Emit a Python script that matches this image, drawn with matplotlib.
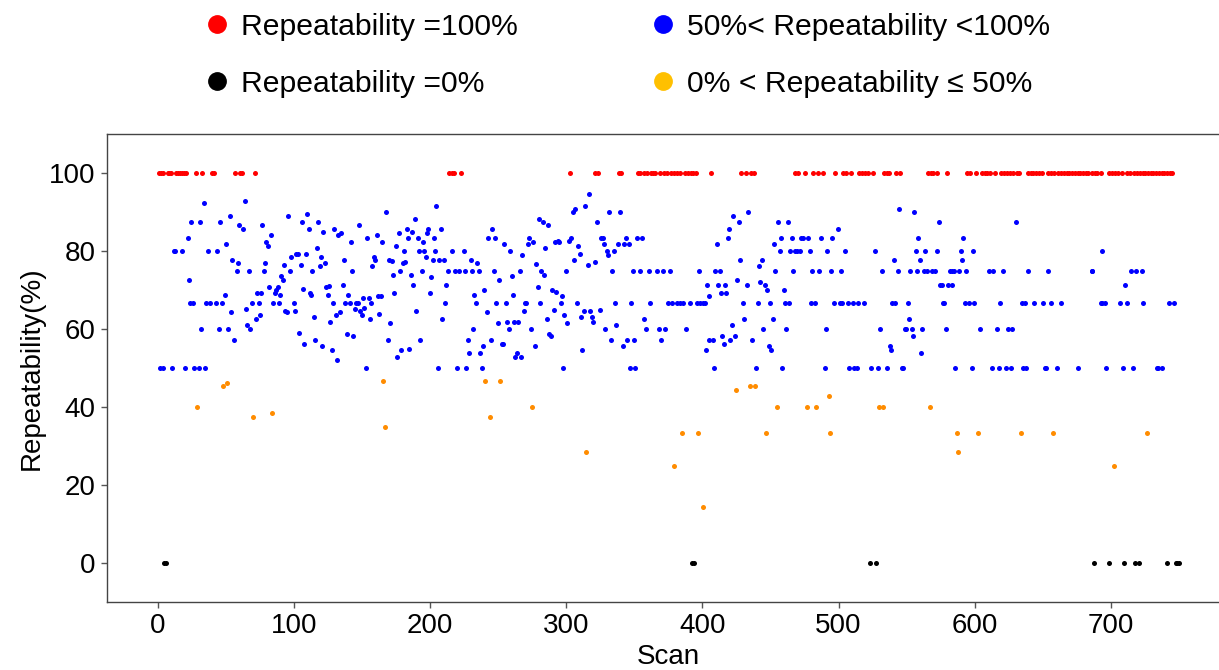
import matplotlib
matplotlib.use("Agg")
import matplotlib.pyplot as plt
from matplotlib.lines import Line2D

plt.rcParams['font.family'] = ['Liberation Sans', 'DejaVu Sans']

# ---------------- data ----------------
red_x = [0.8, 2.2, 3.7, 7.2, 8.6, 10.0, 13.7, 15.2, 16.6, 18.1, 19.6, 21.1, 27.9, 32.8, 39.9, 41.6,
         57.0, 60.7, 61.9, 71.1,
         213.6, 216.0, 217.5, 222.9,
         302.8, 321.1, 323.3, 338.5, 340.4, 352.7, 354.2, 357.1, 359.0, 362.4, 363.9, 365.4, 368.8,
         371.7, 373.7, 376.9, 378.8, 381.0, 383.2, 386.9,
         389.3, 391.3, 393.2, 395.0, 406.6, 428.6, 431.8, 435.8, 437.6, 468.2, 470.0, 475.1, 481.6,
         484.6, 488.5, 497.7, 503.6, 505.6, 509.3, 515.3, 517.3, 519.3,
         521.3, 525.2, 533.5, 535.4, 537.4, 542.3, 545.5, 565.6, 567.6, 569.6, 572.1, 579.7, 594.6,
         596.5, 601.0, 605.4, 607.6, 609.3, 611.3, 614.9, 619.5, 621.5, 623.5, 625.9, 628.4, 630.8,
         632.7, 639.3, 641.3, 643.0, 645.0, 646.9, 649.2,
         653.6, 656.1, 658.6, 661.1, 663.6, 665.6, 667.6, 669.6, 671.5, 673.5, 675.5, 677.5, 679.5,
         681.5, 683.5, 685.8, 688.2, 690.0, 693.0, 698.7, 700.9, 702.9, 704.9, 708.5, 711.8, 713.8,
         716.8, 719.2, 721.3, 723.3, 725.3, 727.3, 729.2, 731.2, 733.2, 735.2, 737.2, 739.2, 741.2,
         743.2, 745.2]
red_value = 100

black_x = [4.5, 6.0, 392.3, 394.0, 522.8, 527.7, 687.7, 698.7, 709.6, 717.7, 720.7, 741.5, 747.5,
           748.7, 750.0]
black_value = 0

orange_points = [
    (28.9, 40.0), (48.0, 45.5), (50.8, 46.2), (69.9, 37.6), (83.9, 38.5),
    (165.6, 46.7), (166.9, 34.9), (240.7, 46.7), (243.8, 37.6), (251.7, 46.7),
    (274.7, 40.0), (314.8, 28.6), (379.5, 25.0), (384.7, 33.3),
    (396.7, 33.3), (400.5, 14.3), (424.7, 44.5), (434.8, 45.5), (438.6, 45.5), (446.7, 33.3),
    (454.8, 40.0), (476.7, 40.0), (483.6, 40.0), (492.7, 42.9), (493.7, 33.3),
    (529.7, 40.0), (532.6, 40.0), (566.8, 40.0), (586.8, 33.3), (587.6, 28.6), (602.7, 33.3),
    (633.7, 33.3), (657.6, 33.3), (702.6, 25.0), (726.6, 33.3),
]

blue_points = [
    # scans 0-130
    (33.7, 92.3), (63.8, 92.8), (24.7, 87.5), (30.8, 87.5), (46.0, 87.5), (52.8, 88.9),
    (59.7, 86.7), (62.9, 85.7), (76.8, 86.7), (82.9, 84.0), (79.7, 82.4), (80.9, 81.2),
    (95.8, 88.9), (109.7, 89.4), (105.9, 87.5), (110.9, 85.7), (117.8, 87.5), (121.7, 85.0),
    (22.0, 83.3), (11.7, 80.0), (12.7, 80.0), (17.9, 80.0), (36.9, 80.0), (43.8, 80.0),
    (49.8, 81.8), (54.7, 77.8), (58.9, 76.9), (57.9, 75.0), (66.8, 75.0), (77.7, 75.0),
    (79.0, 76.9), (92.9, 76.5), (96.8, 75.0), (97.8, 78.5), (101.7, 79.2), (102.9, 79.2),
    (108.7, 79.3), (104.9, 76.5), (116.8, 80.7), (119.8, 78.5), (123.0, 76.9), (118.8, 76.1),
    (113.6, 75.0), (90.7, 73.7), (91.9, 72.7), (22.8, 72.7), (49.1, 68.7), (81.9, 70.7),
    (85.8, 69.2), (87.1, 70.1), (88.0, 70.7), (89.7, 68.7), (72.8, 69.2), (75.8, 69.2),
    (23.8, 66.7), (26.0, 66.7), (35.7, 66.7), (38.1, 66.7), (43.1, 66.7), (47.0, 66.7),
    (68.9, 66.7), (74.1, 66.7), (84.9, 66.7), (88.9, 66.7), (100.0, 66.7),
    (53.8, 64.3), (64.8, 65.2), (74.8, 63.7), (71.8, 62.5), (65.8, 61.1), (68.0, 60.0),
    (93.6, 64.7), (94.8, 64.3), (100.7, 64.7), (106.9, 70.3), (111.7, 69.2), (112.9, 68.7),
    (123.7, 70.7), (124.7, 68.7), (114.9, 63.2), (31.8, 60.0), (45.0, 60.0), (51.8, 60.0),
    (55.7, 57.1), (103.9, 59.1), (107.7, 56.3), (115.6, 57.1), (120.8, 55.6),
    (1.8, 50.0), (4.2, 50.0), (10.7, 50.0), (19.8, 50.0), (26.7, 50.0), (30.0, 50.0), (35.0, 50.0),
    # scans 125-260
    (167.8, 89.9), (204.7, 91.6), (188.9, 88.2), (129.7, 85.7), (147.8, 86.7), (132.7, 84.1),
    (134.9, 84.6), (141.8, 82.4), (153.9, 83.3), (160.8, 84.1), (164.7, 82.4), (176.9, 84.6),
    (182.8, 85.7), (186.6, 85.0), (183.8, 83.3), (190.8, 83.3), (198.7, 85.7), (197.7, 84.6),
    (194.8, 82.4), (202.9, 83.3), (207.7, 85.7), (174.7, 81.2), (180.9, 80.0), (191.8, 80.0),
    (195.7, 80.0), (203.7, 80.0), (197.0, 78.5), (215.8, 80.0), (224.8, 80.0), (245.8, 85.7),
    (242.8, 83.3), (247.7, 83.3), (254.6, 81.8), (136.8, 77.8), (142.7, 75.0), (158.6, 78.5),
    (159.8, 77.8), (157.6, 76.1), (169.8, 77.8), (171.8, 77.4), (179.9, 76.9), (181.8, 77.2),
    (177.9, 75.0), (172.7, 73.9), (185.7, 73.9), (193.8, 75.0), (200.9, 73.3), (201.9, 77.8),
    (206.7, 77.8), (209.9, 77.8), (212.8, 75.0), (218.5, 75.0), (220.9, 75.0), (225.7, 75.0),
    (230.9, 75.0), (235.8, 75.0), (229.7, 77.8), (234.8, 76.9), (246.8, 75.0), (250.7, 72.7),
    (125.9, 71.0), (135.9, 71.4), (139.8, 68.7), (128.7, 66.7), (137.8, 66.7), (141.0, 66.7),
    (145.6, 66.7), (147.1, 66.7), (150.7, 68.0), (154.9, 67.9), (156.9, 66.7), (161.6, 68.4),
    (164.0, 68.4), (144.7, 65.2), (148.8, 64.7), (151.7, 65.4), (149.8, 63.7), (133.9, 64.3),
    (130.7, 63.7), (126.8, 61.9), (155.9, 62.5), (162.8, 64.0), (170.8, 61.5), (173.7, 69.2),
    (187.6, 71.4), (199.7, 69.2), (211.8, 71.4), (210.6, 66.7), (189.8, 64.7), (208.7, 62.5),
    (232.6, 68.7), (233.6, 66.7), (239.7, 70.0), (241.7, 64.3), (248.7, 66.7), (255.9, 66.7),
    (249.7, 61.5), (231.6, 60.0), (138.8, 58.8), (143.7, 58.3), (127.8, 54.6), (131.7, 52.0),
    (152.7, 50.0), (168.8, 57.1), (178.6, 54.6), (175.7, 52.9), (184.7, 55.0), (192.8, 57.1),
    (205.7, 50.0), (219.7, 50.0), (226.7, 50.0), (237.8, 50.0), (227.7, 57.1), (228.7, 53.9),
    (236.8, 53.9), (238.8, 55.6), (244.8, 57.1), (252.7, 56.3), (253.6, 56.3), (256.6, 61.9),
    # scans 255-390
    (316.8, 94.5), (313.8, 91.6), (304.7, 89.9), (306.7, 90.9), (279.9, 88.2), (282.7, 87.5),
    (286.9, 86.7), (322.8, 87.5), (331.7, 89.9), (339.7, 89.9), (272.8, 83.3), (275.7, 82.4),
    (271.8, 81.8), (258.9, 80.0), (267.6, 79.0), (284.7, 80.7), (291.8, 82.4), (293.8, 82.6),
    (295.0, 82.4), (301.8, 82.6), (303.8, 83.3), (308.7, 81.2), (309.9, 79.3), (305.7, 77.8),
    (315.8, 76.5), (320.9, 77.2), (325.8, 83.3), (326.8, 83.3), (327.7, 81.8), (329.7, 80.0),
    (330.7, 79.0), (334.9, 80.0), (337.8, 81.8), (342.6, 81.8), (345.8, 81.8), (343.8, 83.3),
    (351.7, 83.3), (355.9, 83.3), (277.9, 76.6), (281.8, 75.0), (283.7, 73.9), (265.9, 75.0),
    (259.9, 73.6), (299.9, 75.0), (333.9, 75.0), (348.8, 75.0), (353.9, 75.0), (360.7, 75.0),
    (366.8, 75.0), (370.8, 75.0), (375.9, 75.0), (260.8, 68.7), (278.9, 70.7), (289.6, 70.0),
    (292.8, 69.6), (296.7, 68.4), (269.6, 66.7), (270.8, 66.7), (280.9, 66.7), (295.8, 66.7),
    (307.7, 66.7), (335.8, 66.7), (347.8, 66.7), (361.7, 66.7), (374.9, 66.7), (377.9, 66.7),
    (381.7, 66.7), (383.7, 66.7), (385.6, 66.7), (268.8, 64.7), (290.8, 65.0), (298.7, 63.7),
    (300.9, 61.5), (285.9, 62.5), (310.6, 63.2), (312.9, 64.7), (317.8, 64.7), (318.7, 63.2),
    (319.7, 61.9), (324.8, 65.0), (261.8, 61.9), (264.7, 61.9), (257.9, 60.0), (273.8, 60.0),
    (328.7, 60.0), (336.8, 61.1), (356.9, 62.5), (358.8, 60.0), (367.8, 60.0), (372.7, 60.0),
    (387.9, 60.0), (287.7, 58.8), (288.9, 58.3), (276.7, 55.6), (263.7, 53.9), (262.7, 52.9),
    (266.9, 52.9), (297.7, 50.0), (311.6, 54.6), (332.9, 57.1), (344.8, 57.1), (349.7, 57.1),
    (341.6, 55.6), (369.8, 57.1), (346.8, 50.0), (350.7, 50.0),
    # scans 390-520
    (422.5, 88.9), (426.7, 87.5), (433.6, 89.9), (419.6, 85.7), (418.6, 83.3), (410.8, 81.8),
    (427.7, 77.8), (443.8, 77.8), (441.6, 76.1), (455.6, 87.5), (462.6, 87.5), (499.7, 85.7),
    (452.6, 81.8), (457.7, 83.3), (465.8, 83.3), (472.7, 83.3), (473.9, 83.3), (477.7, 83.3),
    (486.8, 83.3), (495.5, 83.3), (456.7, 80.0), (464.5, 80.0), (467.7, 80.0), (469.7, 80.0),
    (471.7, 80.0), (478.7, 80.0), (491.7, 80.0), (504.6, 80.0), (397.7, 75.0), (409.6, 75.0),
    (412.8, 75.0), (453.6, 75.0), (466.8, 75.0), (480.7, 75.0), (485.8, 75.0), (494.7, 75.0),
    (501.7, 75.0), (403.7, 71.4), (411.8, 71.4), (416.7, 71.4), (425.7, 72.7), (432.8, 71.4),
    (442.5, 72.2), (445.7, 71.4), (447.7, 70.0), (459.6, 70.0), (413.8, 69.2), (417.6, 69.2),
    (404.7, 68.4), (390.8, 66.7), (395.7, 66.7), (398.5, 66.7), (400.5, 66.7), (401.7, 66.7),
    (429.6, 66.7), (440.6, 66.7), (449.7, 66.7), (460.6, 66.7), (463.8, 66.7), (479.7, 66.7),
    (482.6, 66.7), (496.5, 66.7), (500.7, 66.7), (502.7, 66.7), (506.8, 66.7), (510.8, 66.7),
    (514.6, 66.7), (518.5, 66.7), (430.6, 62.5), (451.6, 62.5), (421.5, 61.1), (444.8, 60.0),
    (461.6, 60.0), (490.7, 60.0), (404.9, 57.1), (407.6, 57.1), (414.7, 58.3), (423.7, 58.3),
    (415.7, 56.3), (420.5, 57.1), (436.6, 57.1), (402.7, 54.6), (448.7, 55.6), (450.6, 54.6),
    (408.6, 50.0), (439.6, 50.0), (458.7, 50.0), (489.7, 50.0), (507.6, 50.0), (511.5, 50.0),
    (513.7, 50.0),
    # scans 520-655
    (544.5, 90.9), (555.7, 89.9), (573.6, 87.5), (630.5, 87.5), (558.7, 83.3), (591.6, 83.3),
    (526.7, 80.0), (556.7, 80.0), (563.6, 80.0), (572.6, 80.0), (589.8, 80.0), (598.8, 80.0),
    (540.6, 77.8), (559.7, 77.8), (590.8, 77.8), (531.6, 75.0), (543.8, 75.0), (552.6, 75.0),
    (557.7, 75.0), (562.6, 75.0), (564.8, 75.0), (568.7, 75.0), (570.7, 75.0), (581.7, 75.0),
    (583.6, 75.0), (584.9, 75.0), (588.5, 75.0), (593.6, 75.0), (610.8, 75.0), (613.6, 75.0),
    (620.8, 75.0), (638.8, 75.0), (574.8, 71.4), (575.8, 71.4), (580.7, 71.4), (583.6, 71.4),
    (539.6, 66.7), (541.8, 66.7), (550.7, 66.7), (576.8, 66.7), (577.7, 66.7), (592.6, 66.7),
    (595.6, 66.7), (599.7, 66.7), (618.6, 66.7), (634.7, 66.7), (636.6, 66.7), (643.7, 66.7),
    (650.5, 66.7), (551.7, 62.5), (530.6, 60.0), (548.7, 60.0), (549.7, 60.0), (553.8, 60.0),
    (561.6, 60.0), (578.7, 60.0), (603.7, 60.0), (616.6, 60.0), (624.7, 60.0), (627.6, 60.0),
    (554.5, 58.3), (537.7, 55.6), (538.6, 54.6), (560.6, 53.9), (523.8, 50.0), (528.7, 50.0),
    (535.7, 50.0), (546.7, 50.0), (547.7, 50.0), (585.6, 50.0), (597.8, 50.0), (612.7, 50.0),
    (617.8, 50.0), (622.7, 50.0), (626.7, 50.0), (635.6, 50.0), (637.6, 50.0), (651.3, 50.0),
    (652.5, 50.0),
    # scans 650-750
    (693.5, 80.0), (653.7, 75.0), (685.8, 75.0), (686.5, 75.0), (714.5, 75.0), (718.7, 75.0),
    (722.7, 75.0), (710.6, 71.4), (655.7, 66.7), (663.5, 66.7), (692.5, 66.7), (693.8, 66.7),
    (695.5, 66.7), (706.5, 66.7), (711.6, 66.7), (723.6, 66.7), (742.7, 66.7), (746.6, 66.7),
    (660.6, 50.0), (675.7, 50.0), (696.7, 50.0), (708.7, 50.0), (716.5, 50.0), (733.6, 50.0),
    (734.6, 50.0), (737.5, 50.0),
]

legend_labels = ["Repeatability =100%", "Repeatability =0%",
                 "50%< Repeatability <100%", "0% < Repeatability \u2264 50%"]
legend_colors = ["#FF0000", "#000000", "#0000FF", "#FFC000"]

x_ticks = [0, 100, 200, 300, 400, 500, 600, 700]
y_ticks = [0, 20, 40, 60, 80, 100]

# ---------------- figure ----------------
W, H = 1219, 670
fig = plt.figure(figsize=(W / 100, H / 100), dpi=100)
ax = fig.add_axes([106.7 / W, (H - 602.3) / H, (1230 - 106.7) / W, (602.3 - 134) / H])

S = 13
ax.scatter(red_x, [red_value] * len(red_x), s=S, color="#FF0000", linewidths=0, zorder=3)
bx, by = zip(*blue_points)
ax.scatter(bx, by, s=S, color="#0000FF", linewidths=0, zorder=3)
ox, oy = zip(*orange_points)
ax.scatter(ox, oy, s=S, color="#FF8C00", linewidths=0, zorder=3)
ax.scatter(black_x, [black_value] * len(black_x), s=S, color="#000000", linewidths=0, zorder=3)

ax.set_xlim(-37.5, 787.5)
ax.set_ylim(-10, 110)
ax.set_xticks(x_ticks)
ax.set_yticks(y_ticks)
ax.tick_params(labelsize=20, length=4, width=1, color="#555555", pad=4)
for sp in ax.spines.values():
    sp.set_color("#444444")
    sp.set_linewidth(1.0)
ax.set_xlabel("Scan", fontsize=20, labelpad=3)
ax.set_ylabel("Repeatability(%)", fontsize=20, labelpad=3)

handles = [Line2D([], [], marker="o", linestyle="none", markersize=12.5,
                  markerfacecolor=c, markeredgecolor=c) for c in legend_colors]
fig.legend(handles, legend_labels, ncol=2, loc="upper left",
           bbox_to_anchor=(205 / W, 1 - 13 / H), frameon=False, fontsize=21.7,
           handlelength=0.8, handletextpad=0.4, columnspacing=4.4,
           labelspacing=0.96, borderpad=0, borderaxespad=0)

fig.savefig("out.png", dpi=100)
